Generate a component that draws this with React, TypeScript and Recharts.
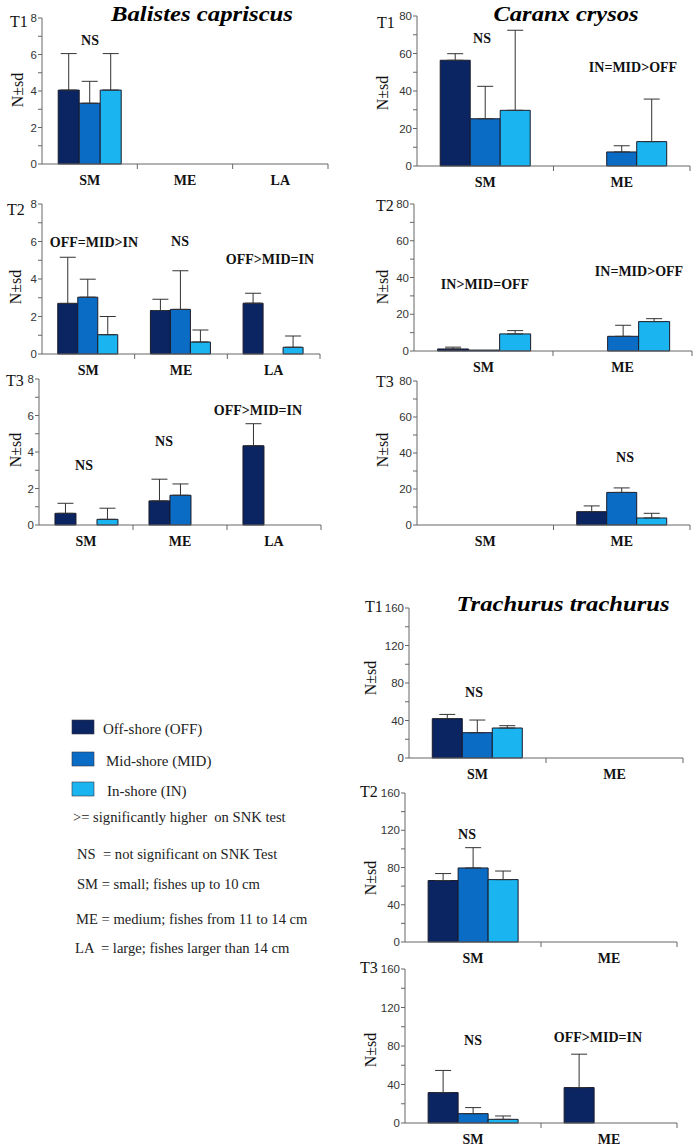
import { BarChart, Bar, XAxis, YAxis, ErrorBar } from "recharts";

const balistesCats = ["SM", "ME", "LA"];
const twoCats = ["SM", "ME"];

const balistesTicks = [0, 1, 2, 3, 4, 5, 6, 7, 8];
const caranxTicks = [0, 10, 20, 30, 40, 50, 60, 70, 80];
const trachurusTicks = [0, 20, 40, 60, 80, 100, 120, 140, 160];

// rows = size class, columns = OFF, MID, IN
const balistesT1Mean = [[4.05, 3.33, 4.05], [null, null, null], [null, null, null]];
const balistesT1Sd = [[2, 1.2, 2], [null, null, null], [null, null, null]];
const balistesT2Mean = [[2.7, 3.03, 1.03], [2.32, 2.38, 0.64], [2.71, null, 0.36]];
const balistesT2Sd = [[2.46, 0.96, 0.97], [0.6, 2.06, 0.64], [0.53, null, 0.6]];
const balistesT3Mean = [[0.64, null, 0.31], [1.32, 1.63, null], [4.34, null, null]];
const balistesT3Sd = [[0.55, null, 0.61], [1.19, 0.62, null], [1.21, null, null]];

const caranxT1Mean = [[56.4, 25.2, 29.7], [null, 7.5, 13]];
const caranxT1Sd = [[3.5, 17.3, 42.7], [null, 3.3, 22.7]];
const caranxT2Mean = [[1.1, 0.5, 9.3], [null, 8, 16]];
const caranxT2Sd = [[1, null, 1.8], [null, 6, 1.6]];
const caranxT3Mean = [[null, null, null], [7.4, 18.1, 3.9]];
const caranxT3Sd = [[null, null, null], [3.2, 2.5, 2.6]];

const trachurusT1Mean = [[42, 27, 32], [null, null, null]];
const trachurusT1Sd = [[4.5, 13.5, 2.5], [null, null, null]];
const trachurusT2Mean = [[66, 79.5, 67], [null, null, null]];
const trachurusT2Sd = [[7.5, 21.8, 9.2], [null, null, null]];
const trachurusT3Mean = [[31.6, 9.7, 3.8], [36.8, null, null]];
const trachurusT3Sd = [[23, 6.3, 3.5], [34.7, null, null]];

const COLORS = { off: "#0b2462", mid: "#0b6cc6", in: "#1ab4f0" };
const SERIF = "Liberation Serif";
const SANS = "Liberation Sans";

type Num = number | null;

function buildRows(cats: string[], mean: Num[][], sd: Num[][]) {
  const err = (v: Num) => (v == null ? null : [0, v]);
  return cats.map((c, i) => ({
    cat: c,
    off: mean[i][0],
    mid: mean[i][1],
    in: mean[i][2],
    offErr: err(sd[i][0]),
    midErr: err(sd[i][1]),
    inErr: err(sd[i][2]),
  }));
}

type PanelProps = {
  cats: string[];
  mean: Num[][];
  sd: Num[][];
  ticks: number[];
  step: number;
  x0: number;
  x1: number;
  yTop: number;
  yBottom: number;
};

function Panel({ cats, mean, sd, ticks, step, x0, x1, yTop, yBottom }: PanelProps) {
  const data = buildRows(cats, mean, sd);
  const bw = (x1 - x0) / cats.length;
  const CatTick = (props: any) => {
    const { x, y, payload } = props;
    return (
      <g>
        <line x1={x + bw / 2} x2={x + bw / 2} y1={y} y2={y + 5} stroke="#666" />
        <text
          x={x}
          y={y + 21}
          textAnchor="middle"
          style={{ fontFamily: SERIF, fontWeight: "bold", fontSize: 14 }}
          fill="#111"
        >
          {payload.value}
        </text>
      </g>
    );
  };
  const series = ["off", "mid", "in"] as const;
  return (
    <div style={{ position: "absolute", left: x0 - 40, top: yTop - 10 }}>
      <BarChart
        width={x1 - x0 + 50}
        height={yBottom - yTop + 40}
        data={data}
        margin={{ top: 10, right: 10, left: 0, bottom: 0 }}
        barCategoryGap="17%"
        barGap={0}
      >
        <XAxis
          dataKey="cat"
          height={30}
          tickLine={false}
          tickSize={0}
          tickMargin={0}
          axisLine={{ stroke: "#666" }}
          tick={<CatTick />}
          interval={0}
        />
        <YAxis
          width={40}
          domain={[0, ticks[ticks.length - 1]]}
          ticks={ticks}
          interval={0}
          tickSize={4}
          tickMargin={1}
          axisLine={{ stroke: "#666" }}
          tickLine={{ stroke: "#666" }}
          tick={{ fontSize: 11.5, fill: "#333", style: { fontFamily: SANS } }}
          tickFormatter={(v: number) => (v % step === 0 ? String(v) : "")}
        />
        {series.map((s) => (
          <Bar
            key={s}
            dataKey={s}
            fill={COLORS[s]}
            stroke="#1b1b2a"
            strokeWidth={1}
            isAnimationActive={false}
          >
            <ErrorBar
              dataKey={`${s}Err`}
              direction="y"
              width={8}
              stroke="#333"
              strokeWidth={1}
              isAnimationActive={false}
            />
          </Bar>
        ))}
      </BarChart>
    </div>
  );
}

const notes = [
  { x: 90, y: 45, t: "NS" },
  { x: 482, y: 43, t: "NS" },
  { x: 633, y: 72, t: "IN=MID>OFF" },
  { x: 94, y: 247, t: "OFF=MID>IN" },
  { x: 180, y: 246, t: "NS" },
  { x: 270, y: 264, t: "OFF>MID=IN" },
  { x: 485, y: 289, t: "IN>MID=OFF" },
  { x: 639, y: 276, t: "IN=MID>OFF" },
  { x: 84, y: 470, t: "NS" },
  { x: 164, y: 446, t: "NS" },
  { x: 258, y: 415, t: "OFF>MID=IN" },
  { x: 625, y: 462, t: "NS" },
  { x: 474, y: 697, t: "NS" },
  { x: 467, y: 839, t: "NS" },
  { x: 473, y: 1045, t: "NS" },
  { x: 598, y: 1042, t: "OFF>MID=IN" },
];

const periodLabels = [
  { x: 10, y: 27, t: "T1" },
  { x: 377, y: 28, t: "T1" },
  { x: 7, y: 215, t: "T2" },
  { x: 376, y: 211, t: "T2" },
  { x: 6, y: 386, t: "T3" },
  { x: 376, y: 387, t: "T3" },
  { x: 365, y: 612, t: "T1" },
  { x: 360, y: 797, t: "T2" },
  { x: 360, y: 973, t: "T3" },
];

const yLabels = [
  { x: 17, y: 90 },
  { x: 382, y: 93 },
  { x: 15, y: 287 },
  { x: 382, y: 287 },
  { x: 15, y: 450 },
  { x: 382, y: 450 },
  { x: 370, y: 678 },
  { x: 370, y: 878 },
  { x: 370, y: 1050 },
];

const titles = [
  { x: 202, y: 21, w: 182, t: "Balistes capriscus" },
  { x: 566, y: 21, w: 145, t: "Caranx crysos" },
  { x: 563, y: 611, w: 213, t: "Trachurus trachurus" },
];

const legendItems = [
  { y: 720, c: COLORS.off, t: "Off-shore (OFF)", tx: 103 },
  { y: 752, c: COLORS.mid, t: "Mid-shore (MID)", tx: 106 },
  { y: 782, c: COLORS.in, t: "In-shore (IN)", tx: 107 },
];

const legendNotes = [
  { x: 73, y: 822, t: ">= significantly higher  on SNK test" },
  { x: 77, y: 859, t: "NS  = not significant on SNK Test" },
  { x: 77, y: 889, t: "SM = small; fishes up to 10 cm" },
  { x: 76, y: 924, t: "ME = medium; fishes from 11 to 14 cm" },
  { x: 75, y: 953, t: "LA  = large; fishes larger than 14 cm" },
];

const serif = { fontFamily: SERIF };

export default function App() {
  return (
    <div
      style={{
        position: "absolute",
        left: 0,
        top: 0,
        width: 696,
        height: 1147,
        background: "#fff",
        overflow: "hidden",
        fontFamily: SERIF,
      }}
    >
      <Panel cats={balistesCats} mean={balistesT1Mean} sd={balistesT1Sd} ticks={balistesTicks} step={2} x0={42} x1={328} yTop={18} yBottom={164} />
      <Panel cats={twoCats} mean={caranxT1Mean} sd={caranxT1Sd} ticks={caranxTicks} step={20} x0={417} x1={690} yTop={16} yBottom={166} />
      <Panel cats={balistesCats} mean={balistesT2Mean} sd={balistesT2Sd} ticks={balistesTicks} step={2} x0={42} x1={320} yTop={204} yBottom={354} />
      <Panel cats={twoCats} mean={caranxT2Mean} sd={caranxT2Sd} ticks={caranxTicks} step={20} x0={414} x1={692} yTop={204} yBottom={351} />
      <Panel cats={balistesCats} mean={balistesT3Mean} sd={balistesT3Sd} ticks={balistesTicks} step={2} x0={39} x1={321} yTop={379} yBottom={525} />
      <Panel cats={twoCats} mean={caranxT3Mean} sd={caranxT3Sd} ticks={caranxTicks} step={20} x0={417} x1={690} yTop={381} yBottom={525} />
      <Panel cats={twoCats} mean={trachurusT1Mean} sd={trachurusT1Sd} ticks={trachurusTicks} step={40} x0={409} x1={683} yTop={608} yBottom={758} />
      <Panel cats={twoCats} mean={trachurusT2Mean} sd={trachurusT2Sd} ticks={trachurusTicks} step={40} x0={405} x1={677} yTop={793} yBottom={942} />
      <Panel cats={twoCats} mean={trachurusT3Mean} sd={trachurusT3Sd} ticks={trachurusTicks} step={40} x0={405} x1={677} yTop={969} yBottom={1123} />

      <svg
        width={696}
        height={1147}
        style={{ position: "absolute", left: 0, top: 0, pointerEvents: "none" }}
      >
        {titles.map((d) => (
          <text
            key={d.t}
            x={d.x}
            y={d.y}
            textAnchor="middle"
            style={{ ...serif, fontWeight: "bold", fontStyle: "italic", fontSize: 22 }}
            textLength={d.w}
            lengthAdjust="spacingAndGlyphs"
            fill="#000"
          >
            {d.t}
          </text>
        ))}
        {periodLabels.map((d, i) => (
          <text key={i} x={d.x} y={d.y} style={{ ...serif, fontSize: 16 }} fill="#111">
            {d.t}
          </text>
        ))}
        {yLabels.map((d, i) => (
          <text
            key={i}
            x={0}
            y={0}
            transform={`translate(${d.x},${d.y}) rotate(-90)`}
            textAnchor="middle"
            dy="0.35em"
            style={{ ...serif, fontSize: 16 }}
            fill="#111"
          >
            N±sd
          </text>
        ))}
        {notes.map((d, i) => (
          <text
            key={i}
            x={d.x}
            y={d.y}
            textAnchor="middle"
            style={{ ...serif, fontWeight: "bold", fontSize: 14 }}
            fill="#111"
          >
            {d.t}
          </text>
        ))}
        {legendItems.map((d) => (
          <g key={d.t}>
            <rect x={72} y={d.y} width={22} height={14} fill={d.c} stroke="#334" strokeWidth={0.6} />
            <text x={d.tx} y={d.y + 14} style={{ ...serif, fontSize: 15 }} fill="#222">
              {d.t}
            </text>
          </g>
        ))}
        {legendNotes.map((d) => (
          <text
            key={d.t}
            x={d.x}
            y={d.y}
            style={{ ...serif, fontSize: 14.6, whiteSpace: "pre" }}
            fill="#222"
          >
            {d.t}
          </text>
        ))}
      </svg>
    </div>
  );
}
